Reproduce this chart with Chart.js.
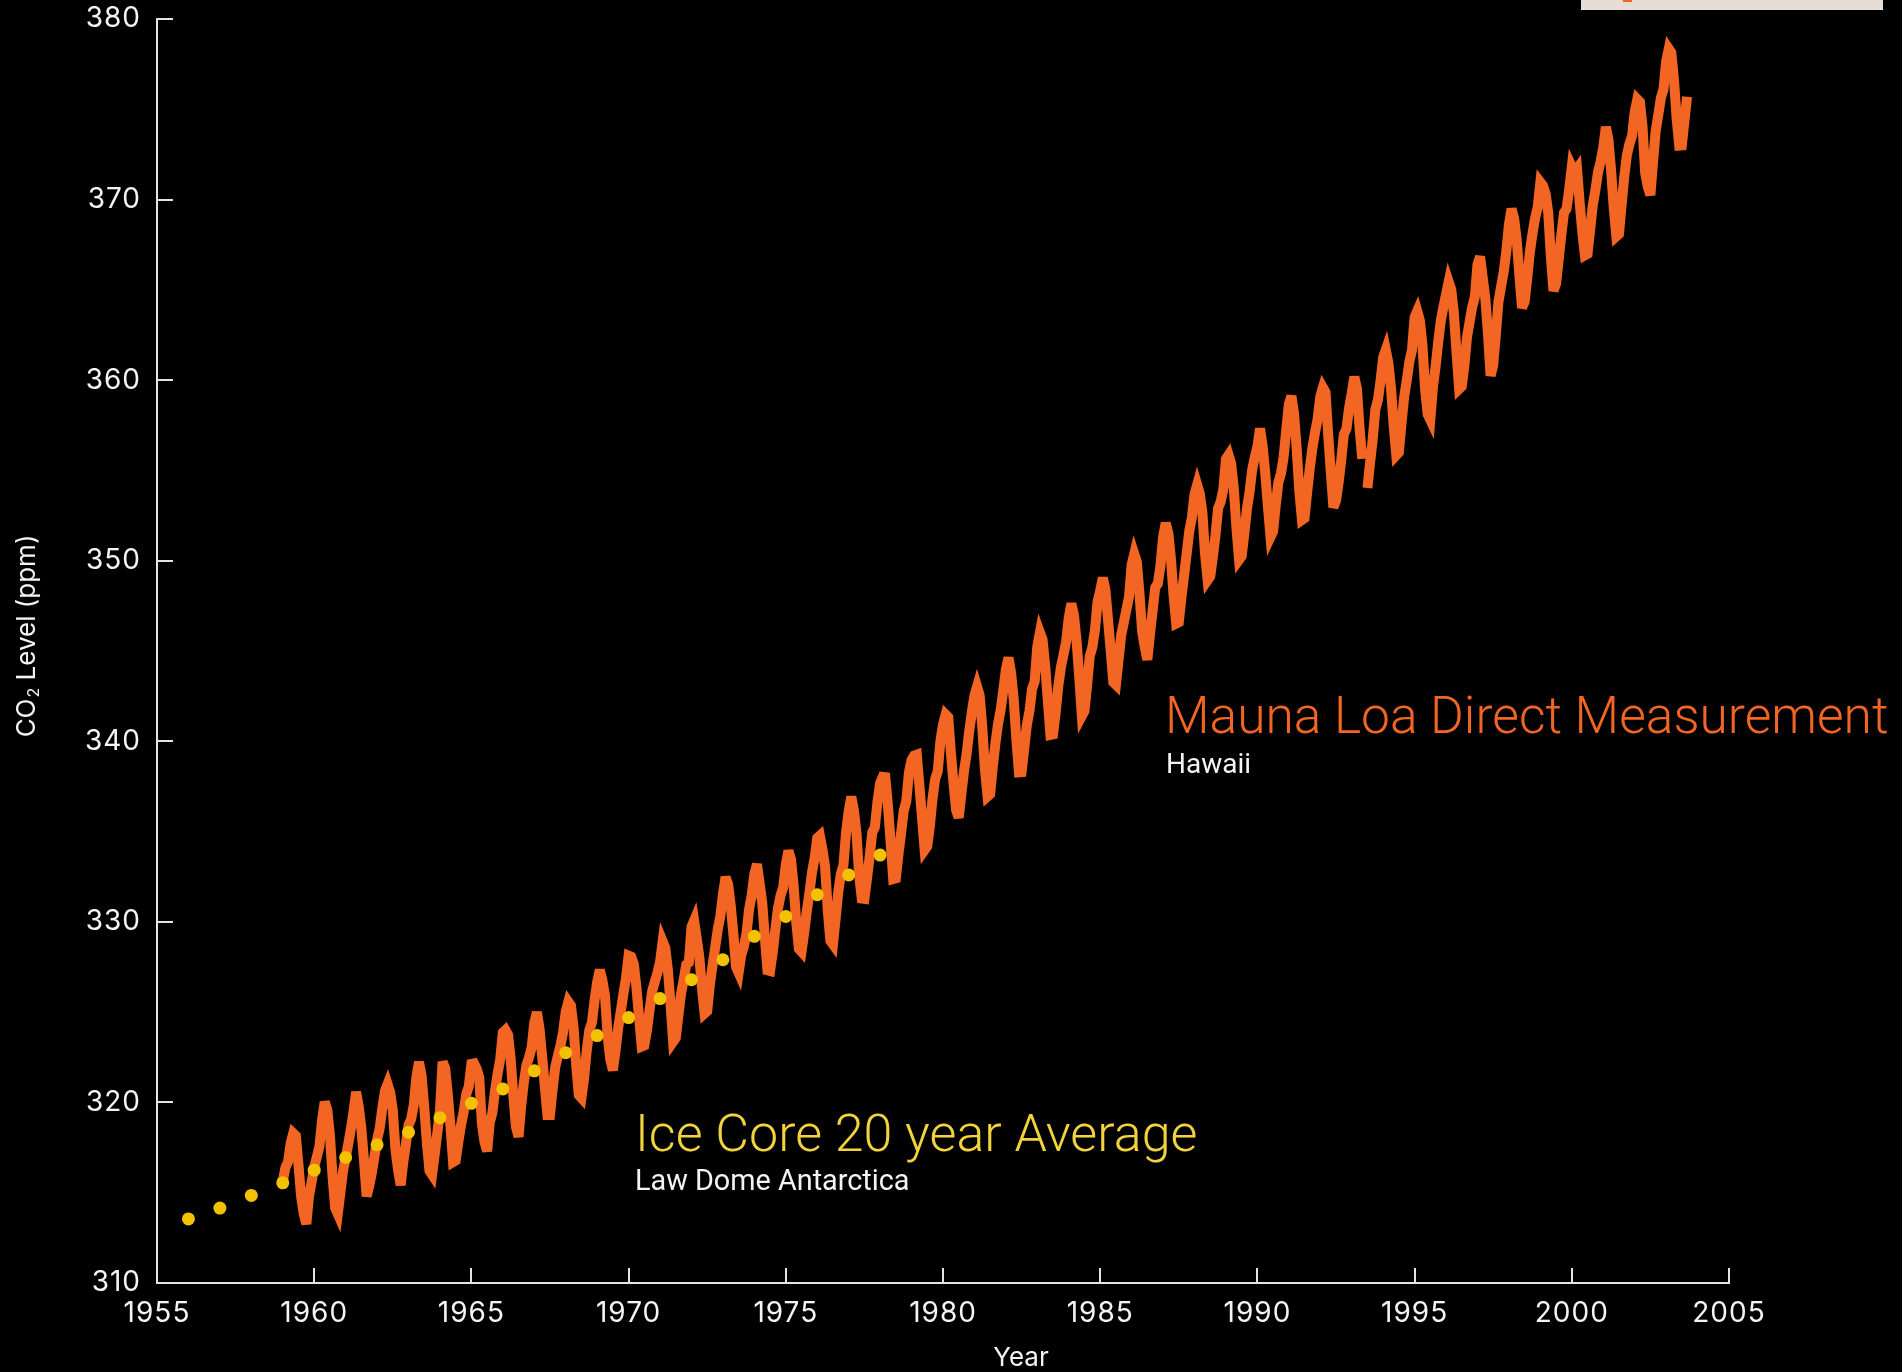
<!DOCTYPE html>
<html>
<head>
<meta charset="utf-8">
<script src="https://cdn.jsdelivr.net/npm/chart.js@4.4.1/dist/chart.umd.min.js"></script>
<style>
html,body{margin:0;padding:0;background:#000;overflow:hidden}
canvas{display:block}
</style>
</head>
<body>
<canvas id="c" width="1902" height="1372"></canvas>
<script>
// ---------------- data ----------------
const iceCoreYears = [1956,1957,1958,1959,1960,1961,1962,1963,1964,1965,1966,1967,1968,1969,1970,1971,1972,1973,1974,1975,1976,1977,1978];
const iceCorePpm   = [313.55,314.15,314.85,315.55,316.25,316.95,317.65,318.35,319.15,319.95,320.75,321.75,322.75,323.7,324.7,325.75,326.8,327.9,329.2,330.3,331.5,332.6,333.7];

// Mauna Loa monthly means, one point per month from Jan 1959 (Feb-Apr 1964 not in record, Sep 1993 missing)
const maunaLoaStartYear = 1959;
const maunaLoaPpm = [
  315.62,316.38,316.71,317.72,318.29,318.15,316.54,314.80,313.84,313.26,314.80,315.58, // 1959
  316.43,316.97,317.58,319.02,320.03,319.59,318.18,315.91,314.16,313.83,315.00,316.19, // 1960
  316.93,317.70,318.54,319.48,320.58,319.77,318.57,316.79,314.80,315.38,316.10,317.01, // 1961
  317.94,318.56,319.68,320.63,321.01,320.55,319.58,317.40,316.26,315.42,316.69,317.69, // 1962
  318.74,319.08,319.86,321.39,322.25,321.47,319.74,317.77,316.21,315.99,317.12,318.31, // 1963
  319.57,                     322.25,321.89,320.44,318.70,316.70,316.79,317.79,318.71, // 1964
  319.44,320.44,320.89,322.13,322.16,321.87,321.39,318.80,317.81,317.30,318.87,319.42, // 1965
  320.62,321.59,322.39,323.87,324.01,323.75,322.39,320.37,318.64,318.10,319.79,321.08, // 1966
  322.07,322.50,323.04,324.42,325.00,324.09,322.55,320.92,319.31,319.31,320.72,321.96, // 1967
  322.57,323.15,323.89,325.02,325.57,325.36,324.14,322.03,320.41,320.25,321.31,322.84, // 1968
  324.00,324.42,325.64,326.66,327.34,326.76,325.88,323.67,322.38,321.78,322.85,324.11, // 1969
  325.03,325.99,326.87,328.13,328.07,327.66,326.35,324.69,323.10,323.16,323.98,325.13, // 1970
  326.17,326.68,327.18,327.78,328.92,328.57,327.34,325.46,323.36,323.57,324.80,326.01, // 1971
  326.77,327.63,327.75,329.72,330.07,329.09,328.05,326.32,324.93,325.06,326.50,327.55, // 1972
  328.54,329.56,330.30,331.50,332.48,332.07,330.87,329.31,327.51,327.18,328.16,328.64, // 1973
  329.35,330.71,331.48,332.65,333.20,332.16,331.07,329.12,327.32,327.28,328.30,329.58, // 1974
  330.73,331.46,331.90,333.17,333.94,333.45,331.97,329.95,328.50,328.34,329.37,330.58, // 1975
  331.59,332.75,333.52,334.64,334.77,334.00,333.06,330.68,328.95,328.75,330.15,331.62, // 1976
  332.66,333.13,334.95,336.13,336.93,336.17,334.88,332.56,331.29,331.27,332.41,333.60, // 1977
  334.95,335.25,336.66,337.69,338.03,338.01,336.41,334.41,332.37,332.41,333.75,334.90, // 1978
  336.14,336.69,338.27,338.96,339.21,339.26,337.54,335.75,333.98,334.19,335.31,336.81, // 1979
  337.90,338.34,340.01,340.93,341.48,341.33,339.40,337.70,336.19,335.77,337.05,338.32, // 1980
  339.29,340.55,341.61,342.53,343.03,342.54,340.78,338.44,336.95,337.08,338.58,339.88, // 1981
  340.96,341.73,342.81,343.97,344.63,343.79,342.32,340.09,338.28,338.29,339.60,340.90, // 1982
  341.68,342.90,343.33,345.25,346.03,345.63,344.19,342.27,340.35,340.38,341.59,343.05, // 1983
  344.10,344.79,345.52,346.84,347.63,346.97,345.53,343.55,341.40,341.67,343.10,344.70, // 1984
  345.21,346.16,347.74,348.34,349.06,348.38,346.72,345.02,343.27,343.13,344.49,345.88, // 1985
  346.56,347.28,348.01,349.77,350.38,349.93,348.16,346.08,345.22,344.51,345.93,347.22, // 1986
  348.52,348.73,349.73,351.31,352.09,351.53,350.11,348.08,346.52,346.59,347.96,349.16, // 1987
  350.39,351.64,352.40,353.69,354.21,353.72,352.69,350.40,348.92,349.13,350.20,351.41, // 1988
  352.91,353.27,353.96,355.64,355.86,355.37,353.99,351.81,350.05,350.25,351.49,352.85, // 1989
  353.80,355.04,355.73,356.32,357.32,356.34,354.84,353.01,351.31,351.62,353.07,354.33, // 1990
  354.84,355.73,357.23,358.66,359.13,358.13,356.19,353.85,352.25,352.35,353.81,355.12, // 1991
  356.25,357.11,357.86,359.09,359.59,359.33,357.01,354.94,352.95,353.32,354.32,355.57, // 1992
  357.00,357.31,358.47,359.27,360.19,359.52,357.33,355.64,null,  354.03,355.43,356.70, // 1993
  358.36,358.91,359.97,361.26,361.68,360.95,359.55,357.49,355.84,356.00,357.58,359.05, // 1994
  359.98,361.03,361.66,363.48,363.82,363.30,361.94,359.50,358.11,357.80,359.61,360.74, // 1995
  362.09,363.29,364.06,364.76,365.45,365.01,363.70,361.54,359.51,359.65,360.80,362.38, // 1996
  363.23,364.06,364.61,366.40,366.84,365.68,364.52,362.57,360.24,360.83,362.49,364.34, // 1997
  365.18,365.98,367.13,368.61,369.49,368.95,367.74,365.79,364.01,364.35,365.66,367.10, // 1998
  368.12,368.98,369.60,370.96,370.77,370.33,369.28,366.86,364.94,365.35,366.68,368.04, // 1999
  369.25,369.50,370.56,371.82,371.51,371.71,369.85,368.20,366.91,366.99,368.33,369.67, // 2000
  370.52,371.50,372.12,372.87,374.02,373.30,371.62,369.55,367.96,368.09,369.68,371.24, // 2001
  372.44,373.08,373.52,374.85,375.55,375.40,374.02,371.48,370.71,370.25,372.08,373.78, // 2002
  374.68,375.63,376.11,377.65,378.35,378.13,376.62,374.50,372.99,373.00,374.35,375.69  // 2003
];

const xAxisMin = 1955, xAxisMax = 2005, xAxisStep = 5;
const yAxisMin = 310,  yAxisMax = 380,  yAxisStep = 10;
const xAxisTitle = 'Year';
const yAxisTitleParts = ['CO', '2', ' Level (ppm)'];
const seriesLabels = ['Mauna Loa Direct Measurement', 'Hawaii', 'Ice Core 20 year Average', 'Law Dome Antarctica'];

// ---------------- styles ----------------
const ORANGE = '#f26522';
const DOT = '#f2c200';
const ICE_TEXT = '#f2d33c';
const AXIS = '#e4e4e4';
const TEXT = '#f4f4f4';

const maunaLoaPoints = maunaLoaPpm.map((v, i) => ({ x: maunaLoaStartYear + i / 12, y: v }));
const iceCorePoints = iceCoreYears.map((yr, i) => ({ x: yr, y: iceCorePpm[i] }));

const canvasState = {
  id: 'canvasState',
  beforeDraw(chart) {
    const ctx = chart.ctx;
    if ('letterSpacing' in ctx) ctx.letterSpacing = '1px';
    ctx.miterLimit = 4;
  }
};

const inwardTicks = {
  id: 'inwardTicks',
  beforeDatasetsDraw(chart) {
    const { ctx, chartArea, scales: { x, y } } = chart;
    ctx.save();
    ctx.strokeStyle = AXIS;
    ctx.lineWidth = 2;
    x.ticks.forEach(t => {
      const px = Math.round(x.getPixelForValue(t.value));
      ctx.beginPath(); ctx.moveTo(px, chartArea.bottom); ctx.lineTo(px, chartArea.bottom - 15); ctx.stroke();
    });
    y.ticks.forEach(t => {
      const py = Math.round(y.getPixelForValue(t.value));
      ctx.beginPath(); ctx.moveTo(chartArea.left, py); ctx.lineTo(chartArea.left + 16, py); ctx.stroke();
    });
    ctx.restore();
  }
};

const annotations = {
  id: 'annotations',
  afterDraw(chart) {
    const { ctx } = chart;
    ctx.save();
    if ('letterSpacing' in ctx) ctx.letterSpacing = '0px';
    ctx.textAlign = 'left';
    ctx.textBaseline = 'alphabetic';
    // series labels
    ctx.fillStyle = ORANGE;
    ctx.font = '300 51.5px Roboto';
    ctx.fillText(seriesLabels[0], 1165, 733);
    ctx.fillStyle = TEXT;
    ctx.font = '400 28px Roboto';
    ctx.fillText(seriesLabels[1], 1166, 773);
    ctx.fillStyle = ICE_TEXT;
    ctx.font = '300 52px Roboto';
    ctx.fillText(seriesLabels[2], 635, 1151);
    ctx.fillStyle = TEXT;
    ctx.font = '400 28.8px Roboto';
    ctx.fillText(seriesLabels[3], 635, 1190);

    // x axis title
    ctx.fillStyle = TEXT;
    ctx.font = '400 26px Inter';
    ctx.textAlign = 'center';
    ctx.fillText(xAxisTitle, 1021, 1366);

    // y axis title (rotated, with subscript)
    ctx.translate(35, 636);
    ctx.rotate(-Math.PI / 2);
    const big = '400 26px Inter', small = '400 16px Inter';
    ctx.font = big; const w0 = ctx.measureText(yAxisTitleParts[0]).width;
    ctx.font = small; const w1 = ctx.measureText(yAxisTitleParts[1]).width;
    ctx.font = big; const w2 = ctx.measureText(yAxisTitleParts[2]).width;
    let sx = -(w0 + w1 + w2 + 1) / 2;
    ctx.textAlign = 'left';
    ctx.font = big; ctx.fillText(yAxisTitleParts[0], sx, 0); sx += w0;
    ctx.font = small; ctx.fillText(yAxisTitleParts[1], sx + 1, 4); sx += w1 + 1;
    ctx.font = big; ctx.fillText(yAxisTitleParts[2], sx, 0);
    ctx.restore();

    // top-right legend remnant
    ctx.save();
    ctx.fillStyle = '#e6ddd4';
    ctx.fillRect(1581, 0, 302, 10);
    ctx.fillStyle = ORANGE;
    ctx.fillRect(1623, 0, 9, 2);
    ctx.restore();
  }
};

new Chart(document.getElementById('c'), {
  data: {
    datasets: [
      {
        type: 'scatter',
        label: 'Ice Core 20 year Average',
        data: iceCorePoints,
        pointRadius: 6.5,
        pointHoverRadius: 6.5,
        pointBackgroundColor: DOT,
        pointBorderWidth: 0,
        backgroundColor: DOT
      },
      {
        type: 'line',
        label: 'Mauna Loa Direct Measurement',
        data: maunaLoaPoints,
        borderColor: ORANGE,
        borderWidth: 10,
        borderJoinStyle: 'miter',
        borderCapStyle: 'butt',
        pointRadius: 0,
        tension: 0,
        spanGaps: false,
        fill: false
      }
    ]
  },
  options: {
    responsive: false,
    devicePixelRatio: 1,
    animation: false,
    events: [],
    layout: { padding: { left: 0, right: 173, top: 19, bottom: 0 } },
    plugins: { legend: { display: false }, tooltip: { enabled: false }, title: { display: false } },
    scales: {
      x: {
        type: 'linear',
        position: 'bottom',
        min: xAxisMin, max: xAxisMax,
        grid: { display: false },
        border: { display: true, color: AXIS, width: 2 },
        ticks: {
          stepSize: xAxisStep,
          color: TEXT,
          padding: 6,
          font: { family: 'Inter', size: 28 },
          maxRotation: 0,
          autoSkip: false,
          callback: v => String(v)
        },
        afterFit(scale) { scale.height = 89; }
      },
      y: {
        type: 'linear',
        position: 'left',
        min: yAxisMin, max: yAxisMax,
        grid: { display: false },
        border: { display: true, color: AXIS, width: 2 },
        ticks: {
          stepSize: yAxisStep,
          color: TEXT,
          padding: 8,
          font: { family: 'Inter', size: 28 },
          callback: v => String(v)
        },
        afterFit(scale) { scale.width = 157; scale.paddingTop = 0; scale.paddingBottom = 0; }
      }
    }
  },
  plugins: [canvasState, inwardTicks, annotations]
});
</script>
</body>
</html>
